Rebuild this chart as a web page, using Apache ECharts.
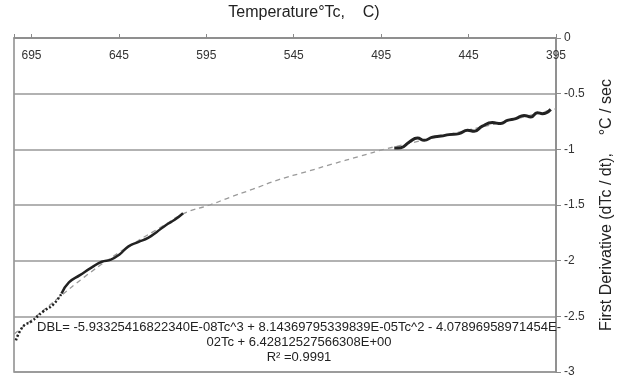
<!DOCTYPE html>
<html>
<head>
<meta charset="utf-8">
<script src="https://cdn.jsdelivr.net/npm/echarts@6/dist/echarts.min.js"></script>
<style>html,body{margin:0;padding:0;background:#fff}#c{width:623px;height:378px}</style>
</head>
<body>
<div id="c"></div>
<script>
// Temperature tick labels (top axis, reversed)
var xTicks = [395, 445, 495, 545, 595, 645, 695];
var yTicks = [0, -0.5, -1, -1.5, -2, -2.5, -3];

// Left measured segment (dotted start)
var leftDotT = [703.9, 699.7, 694.9, 688.3, 682.6, 677.8];
var leftDotV = [-2.715, -2.589, -2.545, -2.456, -2.395, -2.295];
// Left measured segment (solid)
var leftT = [677.8, 673.6, 667.3, 660.5, 654.8, 649.6, 644.5, 639.7, 634.0, 628.3, 623.5, 617.8, 613.1, 608.3];
var leftV = [-2.295, -2.195, -2.13, -2.06, -2.01, -1.99, -1.942, -1.874, -1.833, -1.795, -1.744, -1.677, -1.633, -1.574];
// Right measured segment
var rightT = [487.5, 483.7, 478.9, 474.2, 470.4, 465.6, 460.8, 456.1, 450.4, 445.6, 441.8, 437.1, 431.4, 426.6, 422.8, 418.0, 413.3, 409.4, 405.7, 402.8, 398.0];
var rightV = [-0.988, -0.985, -0.934, -0.899, -0.919, -0.890, -0.881, -0.868, -0.859, -0.829, -0.838, -0.791, -0.760, -0.769, -0.740, -0.724, -0.695, -0.710, -0.671, -0.680, -0.641];
// Polynomial trend line (dashed)
var fitT = [705, 690, 680, 665, 650, 635, 620, 607.4, 593.1, 581.7, 568.4, 553.1, 537.9, 522.7, 507.5, 492.2, 470, 445, 420, 395];
var fitV = [-2.66, -2.47, -2.34, -2.15, -1.98, -1.83, -1.69, -1.573, -1.50, -1.432, -1.358, -1.270, -1.202, -1.131, -1.064, -0.996, -0.915, -0.826, -0.735, -0.636];

var eqLines = [
  'DBL= -5.93325416822340E-08Tc^3 + 8.14369795339839E-05Tc^2 - 4.07896958971454E-',
  '02Tc + 6.42812527566308E+00',
  'R\u00B2 =0.9991'
];

function pairs(a, b) { return a.map(function (v, i) { return [v, b[i]]; }); }

var chart = echarts.init(document.getElementById('c'), null, {renderer: 'canvas'});
var FONT = '"Liberation Sans", Arial, sans-serif';
chart.setOption({
  animation: false,
  backgroundColor: '#fff',
  grid: {left: 14, right: 66, top: 32, bottom: 6, show: true, borderColor: '#8a8a8a', borderWidth: 1.5, containLabel: false},
  xAxis: {
    type: 'value', position: 'top', inverse: true,
    min: 395, max: 705, interval: 50,
    name: 'Temperature\u00B0Tc,    C)', nameLocation: 'middle', nameGap: 17,
    nameTextStyle: {fontFamily: FONT, fontSize: 16, color: '#222', padding: [0, 0, 0, 38]},
    axisLine: {show: true, lineStyle: {color: '#8a8a8a', width: 1.5}},
    axisTick: {show: true, inside: false, length: 4, lineStyle: {color: '#8a8a8a'}},
    axisLabel: {inside: true, margin: 12, fontFamily: FONT, fontSize: 12, color: '#333',
      formatter: function (v) { return xTicks.indexOf(v) >= 0 ? String(v) : ''; }},
    splitLine: {show: false}
  },
  yAxis: {
    type: 'value', position: 'right',
    min: -3, max: 0, interval: 0.5,
    name: 'First Derivative (dTc / dt),    \u00B0C / sec', nameLocation: 'middle', nameGap: 43, nameRotate: 90,
    nameTextStyle: {fontFamily: FONT, fontSize: 16, color: '#222'},
    axisLine: {show: true, lineStyle: {color: '#8a8a8a', width: 1.5}},
    axisTick: {show: true, inside: false, length: 5, lineStyle: {color: '#8a8a8a'}},
    axisLabel: {margin: 8, fontFamily: FONT, fontSize: 12, color: '#333',
      formatter: function (v) { return yTicks.indexOf(v) >= 0 ? String(v) : ''; }},
    splitLine: {show: true, lineStyle: {color: '#999', width: 1.5}}
  },
  series: [
    {type: 'line', data: pairs(fitT, fitV), smooth: true, symbol: 'none', z: 2,
      lineStyle: {color: '#9a9a9a', width: 1.3, type: [5, 4]}},
    {type: 'line', data: pairs(leftDotT, leftDotV), smooth: true, symbol: 'none', z: 3,
      lineStyle: {color: '#222', width: 2.5, type: [2, 2]}},
    {type: 'line', data: pairs(leftT, leftV), smooth: true, symbol: 'none', z: 3,
      lineStyle: {color: '#222', width: 2.5}},
    {type: 'line', data: pairs(rightT, rightV), smooth: true, symbol: 'none', z: 3,
      lineStyle: {color: '#222', width: 3}}
  ],
  graphic: eqLines.map(function (t, i) {
    return {type: 'text', x: 299, y: 327 + i * 15, z: 10,
      style: {text: t, fill: '#222', font: '13px ' + FONT, textAlign: 'center', textVerticalAlign: 'middle'}};
  })
});
</script>
</body>
</html>
